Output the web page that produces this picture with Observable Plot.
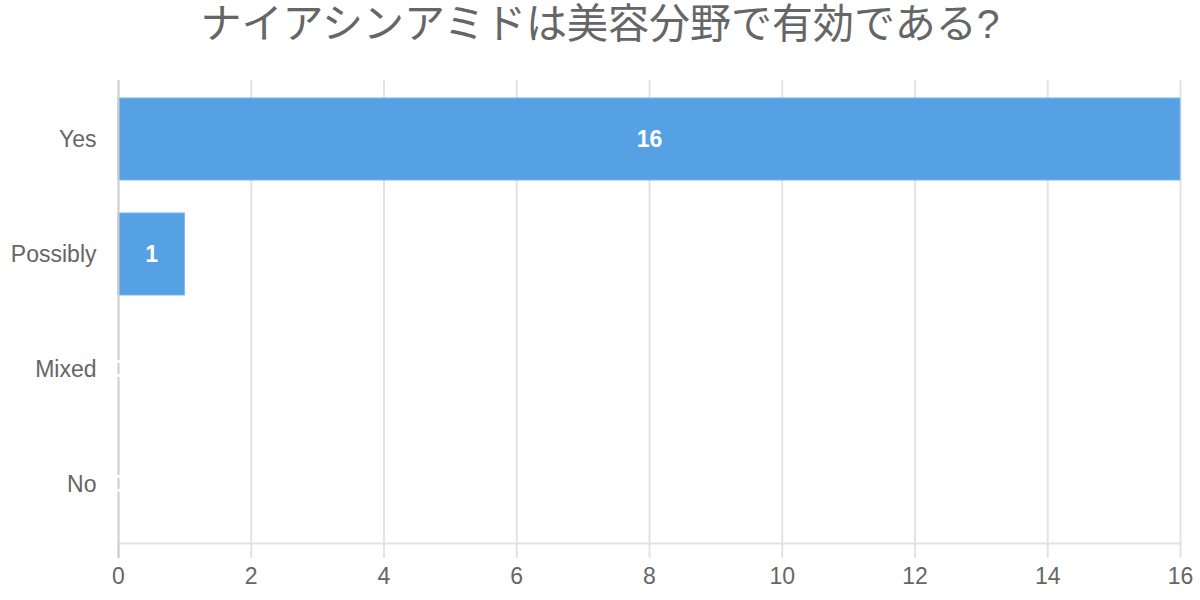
<!DOCTYPE html>
<html>
<head>
<meta charset="utf-8">
<script src="https://cdn.jsdelivr.net/npm/d3@7"></script>
<script src="https://cdn.jsdelivr.net/npm/@observablehq/plot@0.6"></script>
<style>
  body { margin: 0; background: #fff; }
  #title { height: 60px; line-height: 48px; text-align: center; font-family: "Liberation Sans", "Noto Sans CJK JP", sans-serif; font-size: 41px; color: #666; }
</style>
</head>
<body>
<div id="title">ナイアシンアミドは美容分野で有効である?</div>
<div id="chart"></div>
<script>
const categories = ["Yes", "Possibly", "Mixed", "No"];
const values = [16, 1, 0, 0];
const xTicks = [0, 2, 4, 6, 8, 10, 12, 14, 16];

const data = categories.map((c, i) => ({category: c, value: values[i]}));

const chart = Plot.plot({
  width: 1200,
  height: 540,
  marginTop: 20,
  marginBottom: 57,
  marginLeft: 118,
  marginRight: 20,
  style: {fontFamily: "'Liberation Sans', Arial, sans-serif", fontSize: "22px", color: "#666", background: "#fff"},
  x: {domain: [0, 16], ticks: xTicks},
  y: {domain: categories, paddingInner: 0.285, paddingOuter: 0.1425},
  marks: [
    Plot.ruleX(xTicks.filter(t => t > 0), {stroke: "#e3e3e3", strokeWidth: 2}),
    Plot.frame({anchor: "bottom", stroke: "#e3e3e3", strokeWidth: 2}),
    Plot.barX(data, {y: "category", x: "value", fill: "#56a0e4", stroke: "#7db6ec", strokeWidth: 1}),
    Plot.axisX({ticks: xTicks, tickSize: 15, tickPadding: 9, stroke: "#e3e3e3", fill: "#666", fontSize: 23, label: null, strokeWidth: 2}),
    Plot.axisY({tickSize: 0, tickPadding: 22, fill: "#666", fontSize: 23, label: null}),
    Plot.ruleX([0], {stroke: "#cccccc", strokeWidth: 2, insetBottom: -15}),
    Plot.text(data, {y: "category", x: d => d.value / 2, text: d => String(d.value), fill: "white", fontWeight: "bold", fontSize: 23})
  ]
});
document.getElementById("chart").append(chart);
</script>
</body>
</html>
